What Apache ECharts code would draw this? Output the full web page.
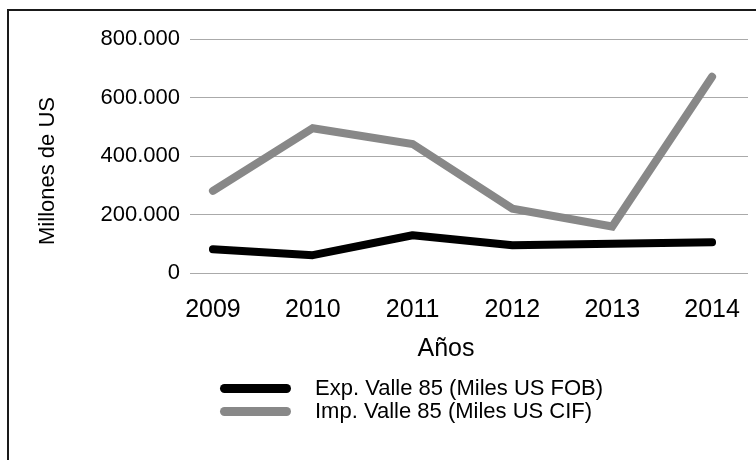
<!DOCTYPE html>
<html>
<head>
<meta charset="utf-8">
<script src="https://cdn.jsdelivr.net/npm/echarts@6/dist/echarts.min.js"></script>
<style>
  html, body { margin: 0; padding: 0; background: #fff; }
  #chart { width: 756px; height: 460px; }
</style>
</head>
<body>
<div id="chart"></div>
<script>
var years = [2009, 2010, 2011, 2012, 2013, 2014];
var expFOB = [81000, 61000, 129000, 95000, 100000, 105000];
var impCIF = [281000, 495000, 441000, 220000, 159000, 671000];
var expName = 'Exp. Valle 85 (Miles US FOB)';
var impName = 'Imp. Valle 85 (Miles US CIF)';

var FONT = '"Liberation Sans", Arial, sans-serif';

function pairs(vals) {
  return years.map(function (y, i) { return [y, vals[i]]; });
}
function miles(v) {
  return String(v).replace(/\B(?=(\d{3})+(?!\d))/g, '.');
}

var myChart = echarts.init(document.getElementById('chart'));
var option = {
  animation: false,
  grid: { left: 190, right: 8, top: 39, bottom: 187 },
  xAxis: {
    type: 'value',
    min: 2008.77,
    max: 2014.36,
    splitLine: { show: false },
    axisLine: { show: false },
    axisTick: { show: false },
    axisLabel: {
      customValues: years,
      margin: 25,
      fontSize: 25,
      color: '#000',
      fontFamily: FONT,
      formatter: function (v) { return String(v); }
    }
  },
  yAxis: {
    type: 'value',
    min: 0,
    max: 800000,
    interval: 200000,
    axisLine: { show: false },
    axisTick: { show: false },
    splitLine: { lineStyle: { color: '#aaaaaa', width: 1 } },
    axisLabel: {
      margin: 10,
      fontSize: 22,
      color: '#000',
      fontFamily: FONT,
      formatter: miles
    }
  },
  legend: {
    orient: 'vertical',
    left: 215,
    top: 372,
    itemWidth: 71,
    itemHeight: 9,
    itemGap: 0,
    icon: 'path://M4.5,0 H66.5 A4.5,4.5 0 0 1 66.5,9 H4.5 A4.5,4.5 0 0 1 4.5,0 Z',
    data: [expName, impName],
    textStyle: {
      fontSize: 22,
      lineHeight: 23,
      color: '#000',
      fontFamily: FONT,
      padding: [0, 0, 0, 19]
    }
  },
  graphic: [
    {
      type: 'polyline',
      shape: { points: [[8, 460], [8, 10], [756, 10]] },
      style: { stroke: '#1a1a1a', lineWidth: 2, fill: null }
    },
    {
      type: 'text',
      x: 48,
      y: 171,
      rotation: Math.PI / 2,
      style: {
        text: 'Millones de US',
        fontSize: 22,
        fontFamily: FONT,
        fill: '#000',
        align: 'center',
        verticalAlign: 'middle'
      }
    },
    {
      type: 'text',
      x: 446,
      y: 349,
      style: {
        text: 'Años',
        fontSize: 25,
        fontFamily: FONT,
        fill: '#000',
        align: 'center',
        verticalAlign: 'middle'
      }
    }
  ],
  series: [
    {
      name: expName,
      type: 'line',
      data: pairs(expFOB),
      symbol: 'none',
      color: '#000000',
      lineStyle: { width: 8, cap: 'round', join: 'round', color: '#000000' }
    },
    {
      name: impName,
      type: 'line',
      data: pairs(impCIF),
      symbol: 'none',
      color: '#888888',
      lineStyle: { width: 8, cap: 'round', join: 'miter', color: '#888888' }
    }
  ]
};
option && myChart.setOption(option);
</script>
</body>
</html>
